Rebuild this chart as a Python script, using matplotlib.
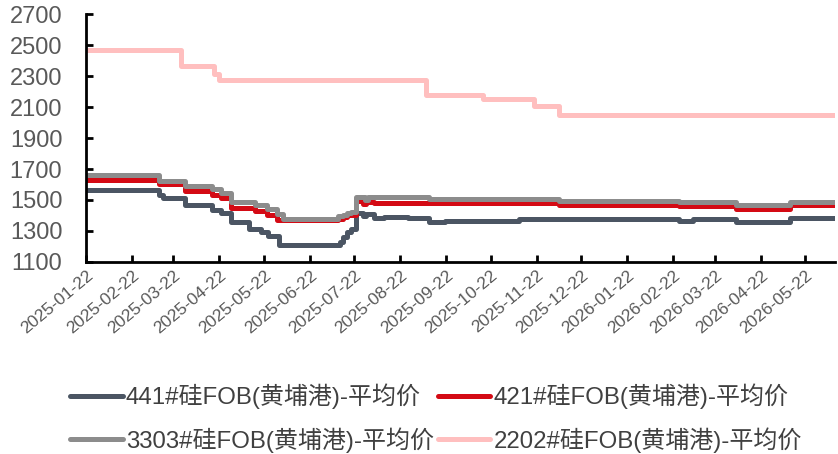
import pandas as pd
import matplotlib
matplotlib.use('Agg')
import matplotlib.pyplot as plt
import matplotlib.dates as mdates

plt.rcParams['font.family'] = ['Liberation Sans', 'Noto Sans CJK SC', 'DejaVu Sans']

# 441#硅 (change points, value holds until next date)
d441 = ['2025-01-22', '2025-03-12', '2025-03-15', '2025-03-30', '2025-04-17', '2025-04-23',
        '2025-04-30', '2025-05-12', '2025-05-20', '2025-05-25', '2025-06-01', '2025-07-12',
        '2025-07-14', '2025-07-17', '2025-07-20', '2025-07-23', '2025-07-28', '2025-07-30',
        '2025-08-04', '2025-08-11', '2025-08-27', '2025-09-10', '2025-09-21', '2025-11-10',
        '2026-02-26', '2026-03-07', '2026-04-05', '2026-05-12', '2026-06-11']
v441 = [1565, 1535, 1515, 1470, 1435, 1415,
        1355, 1310, 1295, 1265, 1210, 1230,
        1260, 1295, 1310, 1415, 1395, 1410,
        1385, 1390, 1385, 1360, 1365, 1375,
        1365, 1375, 1360, 1385, 1385]

# 421#硅
d421 = ['2025-01-22', '2025-03-12', '2025-03-30', '2025-04-17', '2025-04-23', '2025-04-30',
        '2025-05-16', '2025-05-24', '2025-05-31', '2025-07-11', '2025-07-14', '2025-07-17',
        '2025-07-23', '2025-07-28', '2025-07-30', '2025-08-04', '2025-12-07', '2026-02-26',
        '2026-04-05', '2026-05-12', '2026-06-11']
v421 = [1630, 1600, 1560, 1530, 1510, 1450,
        1430, 1400, 1370, 1380, 1390, 1400,
        1495, 1475, 1490, 1480, 1470, 1460,
        1445, 1465, 1465]

# 3303#硅
d3303 = ['2025-01-22', '2025-03-12', '2025-03-30', '2025-04-17', '2025-04-23', '2025-04-30',
         '2025-05-16', '2025-05-24', '2025-05-31', '2025-06-04', '2025-07-11', '2025-07-14',
         '2025-07-17', '2025-07-20', '2025-07-23', '2025-07-29', '2025-07-31', '2025-09-10',
         '2025-12-07', '2026-02-26', '2026-04-05', '2026-05-12', '2026-06-11']
v3303 = [1660, 1625, 1590, 1570, 1545, 1485,
         1465, 1440, 1410, 1380, 1395, 1400,
         1415, 1425, 1520, 1500, 1520, 1505,
         1495, 1485, 1470, 1490, 1490]

# 2202#硅
d2202 = ['2025-01-22', '2025-03-27', '2025-04-18', '2025-04-22', '2025-09-08', '2025-10-17',
         '2025-11-20', '2025-12-07', '2026-06-11']
v2202 = [2470, 2365, 2315, 2275, 2175, 2150, 2105, 2050, 2050]

labels = ['441#硅FOB(黄埔港)-平均价', '421#硅FOB(黄埔港)-平均价',
          '3303#硅FOB(黄埔港)-平均价', '2202#硅FOB(黄埔港)-平均价']
colors = ['#4B5563', '#D40A14', '#8C8C8C', '#FFBFBF']

tick_dates = pd.date_range('2025-01-01', '2026-05-01', freq='MS') + pd.Timedelta(days=21)
y_ticks = list(range(1100, 2701, 200))

fig = plt.figure(figsize=(8.38, 4.54), dpi=100)
ax = fig.add_axes([0.1026, 0.423, 0.8938, 0.546])

series = [(d441, v441), (d421, v421), (d3303, v3303), (d2202, v2202)]
lines = []
for (d, v), lab, c in zip(series, labels, colors):
    ln, = ax.plot(pd.to_datetime(d), v, drawstyle='steps-post', color=c, lw=3.6,
                  label=lab, solid_capstyle='round', solid_joinstyle='round')
    lines.append(ln)

ax.set_xlim(pd.Timestamp('2025-01-22'), pd.Timestamp('2026-06-11'))
ax.set_ylim(1100, 2700)
ax.set_yticks(y_ticks)
ax.set_xticks(tick_dates)
ax.xaxis.set_major_formatter(mdates.DateFormatter('%Y-%m-%d'))

for s in ['top', 'right']:
    ax.spines[s].set_visible(False)
for s in ['left', 'bottom']:
    ax.spines[s].set_linewidth(2)
ax.tick_params(direction='in', length=5, width=2, colors='black')
ax.tick_params(axis='y', labelsize=17, labelcolor='#595959', pad=17)
ax.tick_params(axis='x', labelsize=12.5, labelcolor='#595959', pad=4)
for t in ax.get_xticklabels():
    t.set_rotation(40)
    t.set_ha('right')
    t.set_rotation_mode('anchor')

# legend filled row by row: 441, 421 / 3303, 2202
order = [0, 2, 1, 3]
leg = fig.legend([lines[i] for i in order], [labels[i] for i in order],
                 loc='upper left', bbox_to_anchor=(0.0835, 0.155), ncol=2, frameon=False,
                 fontsize=17.3, handlelength=2.2, handletextpad=0.12, columnspacing=0.16,
                 labelspacing=0.74, borderaxespad=0, borderpad=0)
for t in leg.get_texts():
    t.set_color('#404040')

fig.savefig('out.png', dpi=100)
